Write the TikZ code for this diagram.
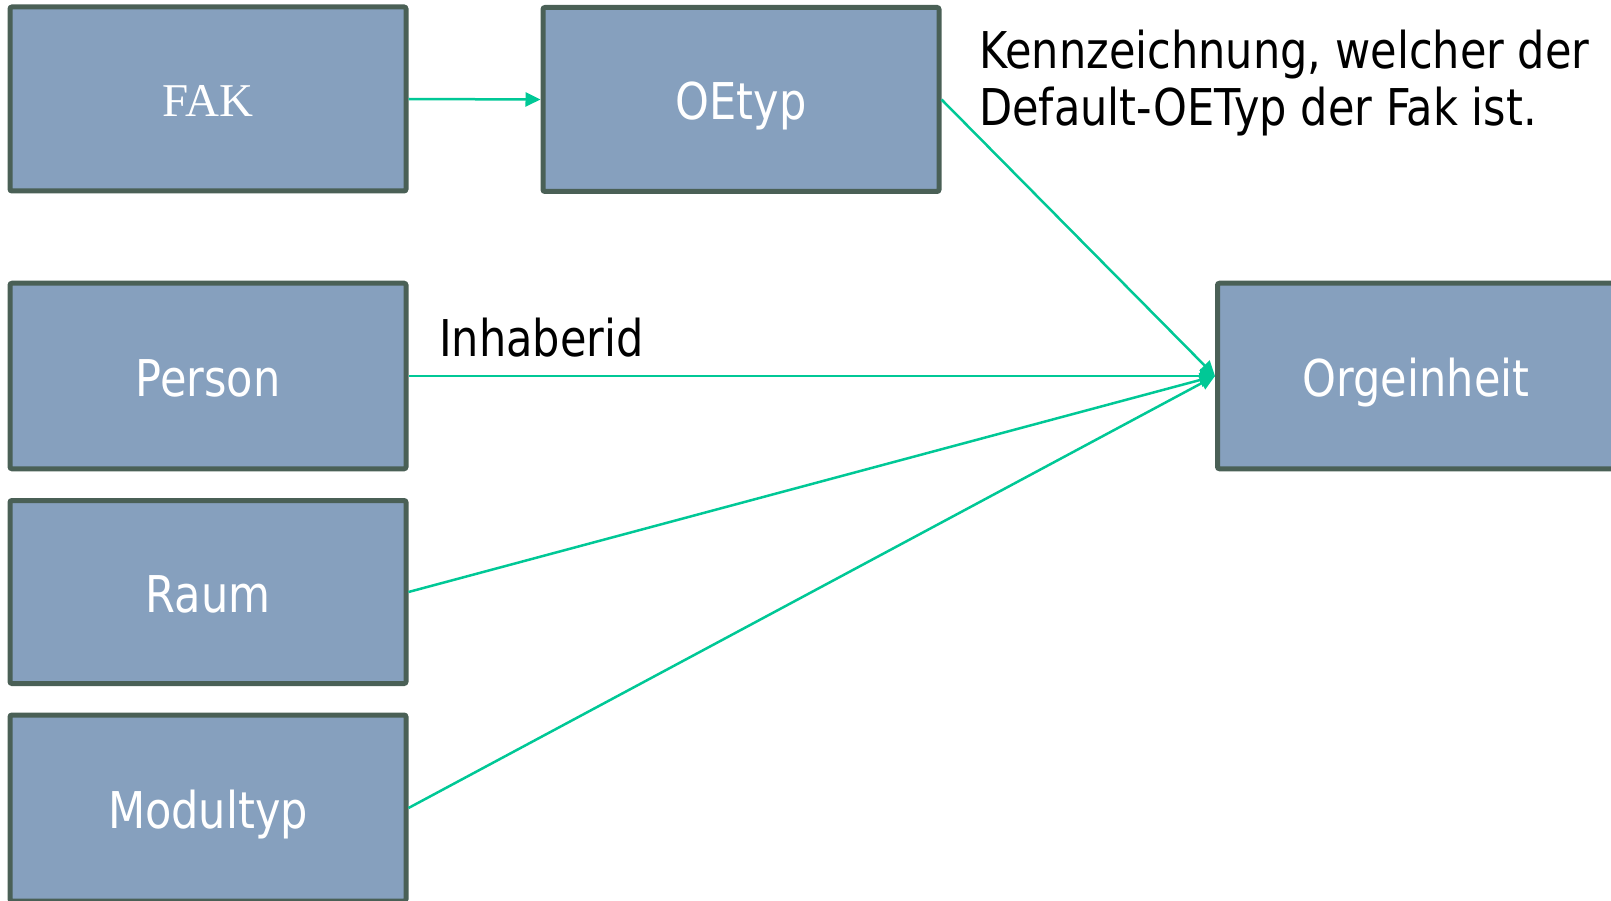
\documentclass[tikz,border=0pt]{standalone}
\usepackage{fontspec}
\setmainfont{DejaVu Sans}[FakeStretch=0.85]
\newfontfamily\fakfont{Liberation Serif}
\usetikzlibrary{arrows.meta}
\definecolor{boxfill}{RGB}{134,160,190}
\definecolor{boxline}{RGB}{74,96,86}
\definecolor{arrgreen}{RGB}{0,200,150}
\tikzset{
  ebox/.style={draw=boxline, fill=boxfill, line width=5pt, rounded corners=2pt,
    minimum width=396pt, minimum height=184pt, text=white, inner sep=0pt,
    text height=40pt, text depth=0pt,
    font=\fontsize{50.7}{57}\selectfont},
  conn/.style={draw=arrgreen, line width=2.5pt, -{Triangle[length=15pt,width=14pt]}},
  lbl/.style={inner sep=0pt, font=\fontsize{50.7}{57}\selectfont, text=black}
}
\begin{document}
\begin{tikzpicture}[x=1pt,y=-1pt]
\useasboundingbox (0,0) rectangle (1611,901);
\clip (0,0) rectangle (1611,901);
\node[ebox, text height=36pt, font=\fakfont\fontsize{47}{50}\selectfont] (fak) at (208,99) {FAK};
\node[ebox] (oetyp) at (741,99.5) {OEtyp};
\node[ebox, minimum height=185.5pt] (person) at (208,376) {Person};
\node[ebox, minimum height=183pt] (raum) at (208,592) {Raum};
\node[ebox, minimum height=186pt] (modul) at (208,808) {Modultyp};
\node[ebox, minimum width=397pt, minimum height=185.5pt] (orge) at (1416,376) {Orgeinheit};
\node[lbl, anchor=base west] (inh) at (439,356) {Inhaberid};
\node[lbl, anchor=base west] (kenn1) at (979,69) {Kennzeichnung, welcher der};
\node[lbl, anchor=base west] (kenn2) at (979,126) {Default-OETyp der Fak ist.};
\draw[conn] (fak.east) -- (oetyp.west);
\draw[conn] (oetyp.east) -- (orge.west);
\draw[conn] (person.east) -- (orge.west);
\draw[conn] (raum.east) -- (orge.west);
\draw[conn] (modul.east) -- (orge.west);
\end{tikzpicture}
\end{document}
